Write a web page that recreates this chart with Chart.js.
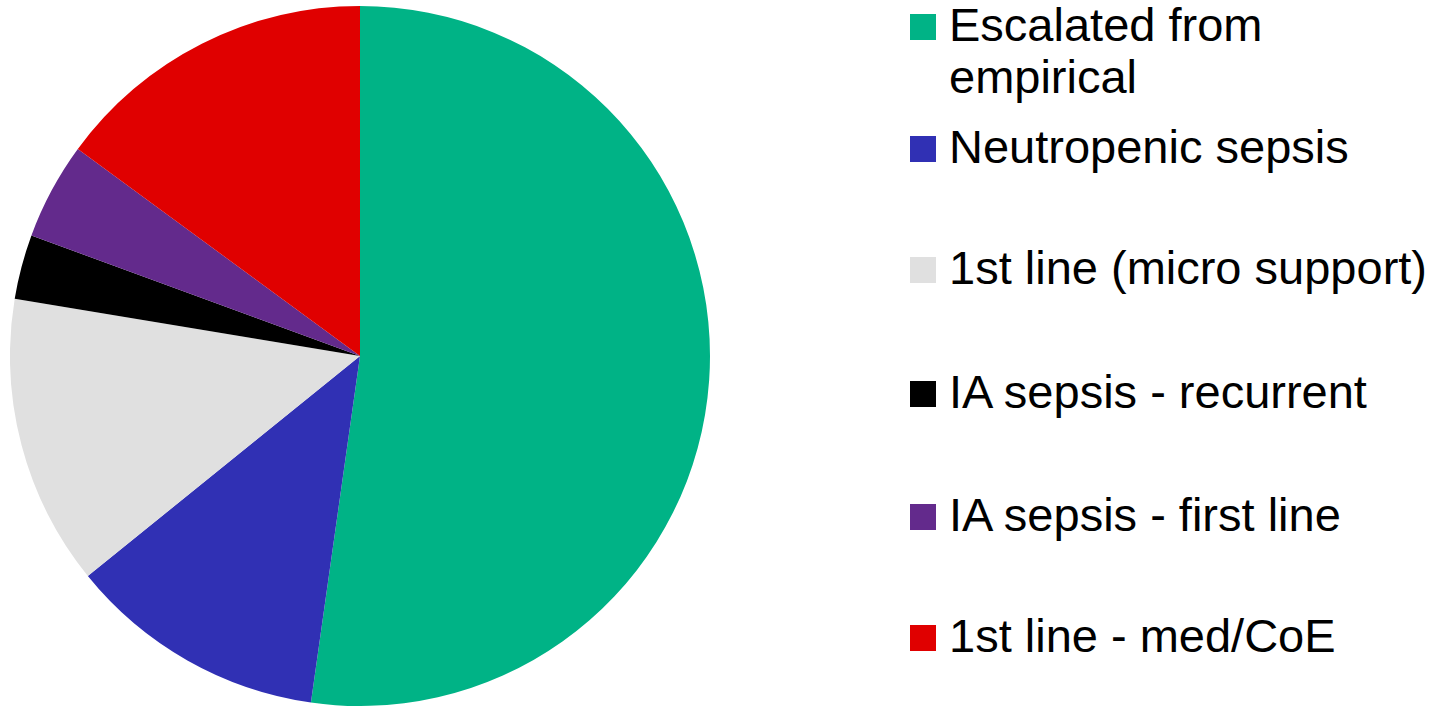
<!DOCTYPE html>
<html>
<head>
<meta charset="utf-8">
<style>
    body {
        margin: 0;
        background: #fff;
        width: 1450px;
        height: 706px;
        overflow: hidden;
        position: relative;
        font-family: "Liberation Sans", Arial, sans-serif;
    }
    .pie-box {
        position: absolute;
        left: 10px;
        top: 6px;
        width: 700px;
        height: 700px;
    }
    .legend {
        position: absolute;
        left: 910px;
        top: 0;
    }
    .legend-item {
        position: absolute;
        left: 0;
        width: 540px;
    }
    .legend-item .box {
        position: absolute;
        left: 0;
        width: 26px;
        height: 26px;
        top: 15px;
    }
    .legend-item .txt {
        position: absolute;
        left: 39px;
        width: 495px;
        font-size: 47px;
        line-height: 52px;
        color: #000;
    }
</style>
</head>
<body>
<div class="pie-box"><canvas id="pie"></canvas></div>
<div class="legend" id="legend"></div>

<script src="https://cdn.jsdelivr.net/npm/chart.js@4.4.0/dist/chart.umd.min.js"></script>
<script>
    // categories and counts (total 67)
    const categories = [
        'Escalated from empirical',
        'Neutropenic sepsis',
        '1st line (micro support)',
        'IA sepsis - recurrent',
        'IA sepsis - first line',
        '1st line - med/CoE'
    ]
    const counts = [35, 8, 9, 2, 3, 10]
    const sliceColors = ['#00b386', '#3030b4', '#e0e0e0', '#000000', '#632a8c', '#e00000']

    // vertical position of each legend row
    const legendTops = [-1, 121, 242, 366, 489, 610]

    const ctx = document.getElementById('pie').getContext('2d')
    const chart = new Chart(ctx, {
        type: 'pie',
        data: {
            labels: categories,
            datasets: [{
                data: counts,
                backgroundColor: sliceColors,
                borderWidth: 0,
                hoverOffset: 0,
                offset: 0
            }]
        },
        options: {
            responsive: true,
            maintainAspectRatio: false,
            animation: false,
            layout: { padding: 0 },
            plugins: {
                legend: { display: false },
                tooltip: { enabled: false }
            }
        }
    })

    // html legend built from the chart's own labels/colors
    const legend = document.getElementById('legend')
    chart.data.labels.forEach((label, i) => {
        const item = document.createElement('div')
        item.className = 'legend-item'
        item.style.top = legendTops[i] + 'px'
        const box = document.createElement('div')
        box.className = 'box'
        box.style.background = chart.data.datasets[0].backgroundColor[i]
        const txt = document.createElement('div')
        txt.className = 'txt'
        txt.textContent = label
        item.appendChild(box)
        item.appendChild(txt)
        legend.appendChild(item)
    })
</script>
</body>
</html>
